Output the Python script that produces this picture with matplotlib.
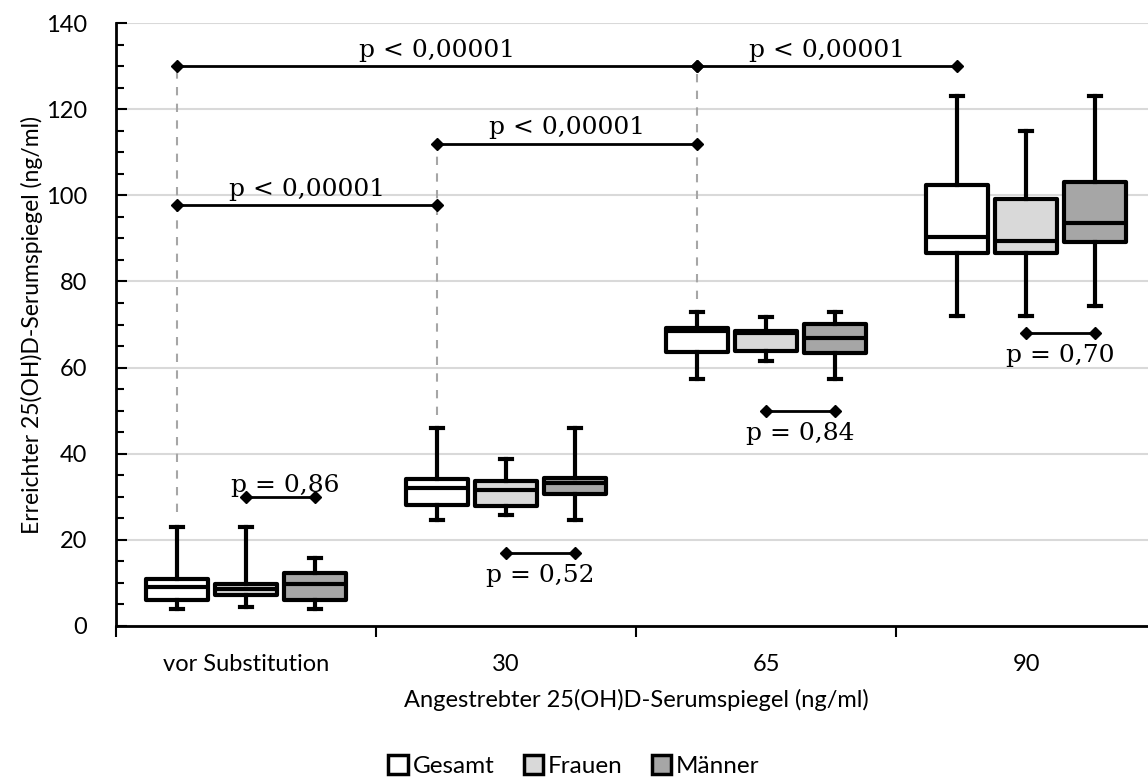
import numpy as np
import matplotlib.pyplot as plt
from matplotlib.patches import Patch

plt.rcParams['font.family'] = ['Lato', 'DejaVu Sans']

groups = ['vor Substitution', '30', '65', '90']
series = ['Gesamt', 'Frauen', 'Männer']
colors = ['#ffffff', '#d9d9d9', '#a6a6a6']

# whisker low, Q1, median, Q3, whisker high per series
wlo = [[4.0, 24.6, 57.4, 72.0], [4.5, 25.8, 61.6, 72.0], [4.0, 24.6, 57.4, 74.3]]
q1 = [[6.0, 28.0, 63.7, 86.6], [7.2, 27.8, 63.9, 86.6], [6.0, 30.6, 63.3, 89.1]]
med = [[9.1, 32.0, 68.4, 90.3], [8.6, 31.6, 68.1, 89.5], [9.7, 33.2, 66.8, 93.6]]
q3 = [[10.9, 34.2, 69.1, 102.5], [9.8, 33.6, 68.5, 99.2], [12.2, 34.3, 70.1, 103.0]]
whi = [[23.1, 45.9, 72.8, 123.0], [23.1, 38.8, 71.7, 115.0], [15.7, 45.9, 72.8, 123.0]]

# comparisons between groups (Gesamt boxes)
big_from = [0, 1, 0, 2]
big_to = [1, 2, 2, 3]
big_y = [97.7, 112.0, 130.0, 130.0]
big_txt = ['p < 0,00001'] * 4

# comparisons Frauen vs Männer inside each group
small_y = [30.0, 17.0, 50.0, 68.0]
small_txt = ['p = 0,86', 'p = 0,52', 'p = 0,84', 'p = 0,70']
small_above = [True, False, False, False]

guide_grp = [0, 1, 2]
guide_top = [130.0, 112.0, 130.0]
guide_bot = [26.5, 49.0, 76.0]

offsets = [-0.265, 0.0, 0.265]
width = 0.238

fig = plt.figure(figsize=(11.48, 7.82), dpi=100)
ax = fig.add_axes([116 / 1148, 156 / 782, 1040 / 1148, 603 / 782])

centers = np.arange(len(groups)) + 0.5
for s in range(len(series)):
    stats = []
    for g in range(len(groups)):
        stats.append(dict(whislo=wlo[s][g], q1=q1[s][g], med=med[s][g],
                          q3=q3[s][g], whishi=whi[s][g], fliers=[]))
    ax.bxp(stats, positions=centers + offsets[s], widths=width,
           showfliers=False, patch_artist=True,
           boxprops=dict(facecolor=colors[s], edgecolor='black', linewidth=3,
                         joinstyle='round'),
           medianprops=dict(color='black', linewidth=3),
           whiskerprops=dict(color='black', linewidth=3),
           capprops=dict(color='black', linewidth=3),
           capwidths=0.045, zorder=3)

# dashed guides
for g, t, b in zip(guide_grp, guide_top, guide_bot):
    ax.plot([centers[g] + offsets[0]] * 2, [b, t], color='#a6a6a6',
            linestyle=(0, (4, 4)), linewidth=1.5, zorder=2)

serif = dict(family='DejaVu Serif', fontsize=18)
for a, b, y, t in zip(big_from, big_to, big_y, big_txt):
    x0 = centers[a] + offsets[0]
    x1 = centers[b] + offsets[0]
    ax.plot([x0, x1], [y, y], color='black', linewidth=2, marker='D',
            markersize=6, zorder=4)
    ax.annotate(t, ((x0 + x1) / 2, y), xytext=(0, 3), textcoords='offset points',
                ha='center', va='bottom', **serif)

for g, y, t, above in zip(range(len(groups)), small_y, small_txt, small_above):
    x0 = centers[g] + offsets[1]
    x1 = centers[g] + offsets[2]
    ax.plot([x0, x1], [y, y], color='black', linewidth=2, marker='D',
            markersize=6, zorder=4)
    if above:
        ax.annotate(t, ((x0 + x1) / 2 + 0.02, y), xytext=(0, 0),
                    textcoords='offset points', ha='center', va='bottom', **serif)
    else:
        ax.annotate(t, ((x0 + x1) / 2, y), xytext=(0, -8), textcoords='offset points',
                    ha='center', va='top', **serif)

ax.set_xlim(0, 4)
ax.set_ylim(0, 140)
ax.set_yticks(np.arange(0, 141, 20))
ax.set_yticks(np.arange(0, 141, 5), minor=True)
ax.set_xticks([0, 1, 2, 3])
ax.set_xticklabels([])
ax.set_xticks(centers, minor=True)
ax.set_xticklabels(groups, minor=True)
ax.tick_params(axis='x', which='major', direction='out', length=8, width=1.5)
ax.tick_params(axis='x', which='minor', length=0, pad=20, labelsize=17)
ax.tick_params(axis='y', which='major', direction='in', length=8, width=1.5,
               labelsize=17, pad=21)
ax.tick_params(axis='y', which='minor', direction='in', length=6, width=1.5)
ax.grid(axis='y', which='major', color='#d9d9d9', linewidth=1.5, zorder=0)
ax.set_axisbelow(True)
for side in ['top', 'right']:
    ax.spines[side].set_visible(False)
for side in ['left', 'bottom']:
    ax.spines[side].set_linewidth(2)

ax.set_ylabel('Erreichter 25(OH)D-Serumspiegel (ng/ml)', fontsize=16.5, labelpad=2)
ax.set_xlabel('Angestrebter 25(OH)D-Serumspiegel (ng/ml)', fontsize=17, labelpad=10)

handles = [Patch(facecolor=c, edgecolor='black', linewidth=2.5) for c in colors]
fig.legend(handles, series, loc='center', bbox_to_anchor=(0.5, 16 / 782),
           ncol=3, frameon=False, fontsize=17.5, handlelength=0.8, handleheight=0.8,
           handletextpad=0.2, columnspacing=1.2)

fig.savefig('out.png', dpi=100)
